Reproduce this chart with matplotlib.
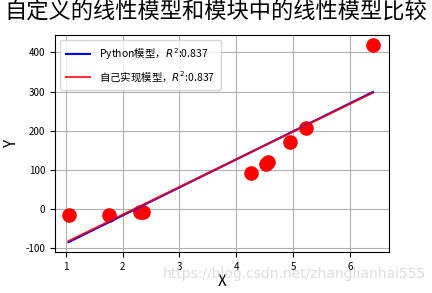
import numpy as np
import matplotlib
matplotlib.use('Agg')
import matplotlib.pyplot as plt

plt.rcParams['font.family'] = ['Noto Sans CJK SC', 'DejaVu Sans']
plt.rcParams['axes.unicode_minus'] = False

# dados
x = [1.06, 1.76, 2.30, 2.36, 4.25, 4.52, 4.55, 4.95, 5.23, 6.40]
y = [-15, -15, -8, -8, 92, 116, 119, 170, 206, 420]

# retas ajustadas (extremos)
linha_x = [1.05, 6.40]
python_y = [-85, 299]
proprio_y = [-82, 297]

fig = plt.figure(figsize=(4.32, 2.93), dpi=100)
ax = fig.add_axes([0.127, 0.140, 0.773, 0.741])

ax.scatter(x, y, s=90, color='red', zorder=3)
ax.plot(linha_x, python_y, color='blue', linewidth=1.5, label='Python模型，$R^2$:0.837', zorder=4)
ax.plot(linha_x, proprio_y, color='red', linewidth=1.5, alpha=0.8, label='自己实现模型，$R^2$:0.837', zorder=5)

ax.set_xlim(0.81, 6.68)
ax.set_ylim(-110, 445)
ax.set_xticks([1, 2, 3, 4, 5, 6])
ax.set_yticks([-100, 0, 100, 200, 300, 400])
ax.tick_params(labelsize=7)
ax.grid(True, color='#b0b0b0', linewidth=0.8)

ax.set_xlabel('X', fontsize=11, labelpad=1)
ax.set_ylabel('Y', fontsize=11)
fig.suptitle('自定义的线性模型和模块中的线性模型比较', fontsize=16, y=0.997)
ax.legend(loc='upper left', fontsize=7.5, handlelength=2.3, borderpad=0.6, labelspacing=0.7)

fig.text(0.985, 0.04, 'https://blog.csdn.net/zhanglianhai555', ha='right', va='bottom',
         fontsize=10, color='#dddddd', family=['DejaVu Sans'])

fig.savefig('out.png', dpi=100)
